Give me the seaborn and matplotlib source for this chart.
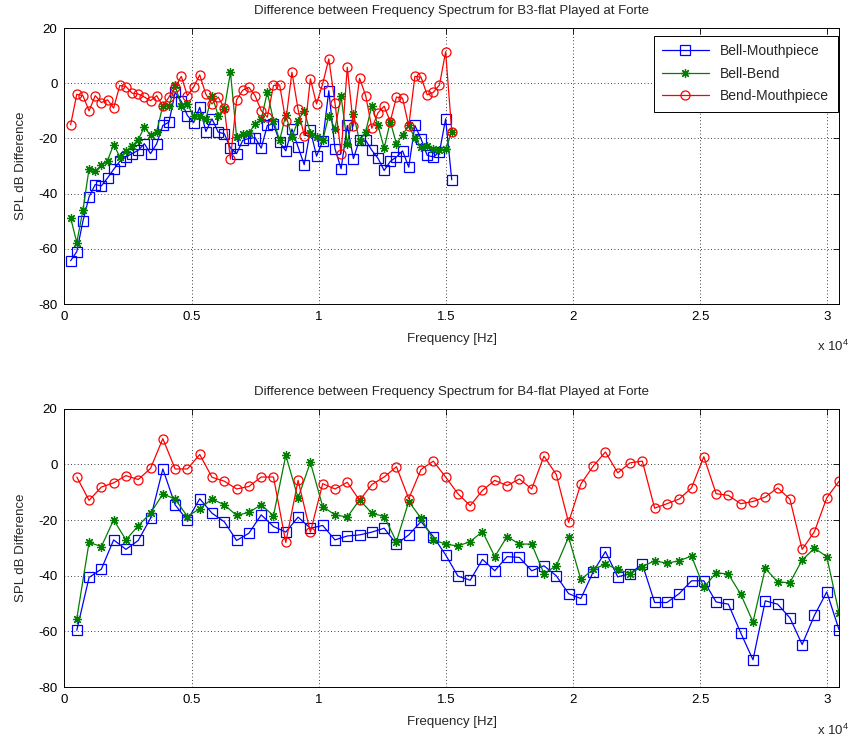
import matplotlib
matplotlib.use("Agg")
import matplotlib.pyplot as plt
import seaborn as sns
import pandas as pd

# ---------------- data ----------------
top_freq = [242, 484, 725, 967, 1209, 1451, 1693, 1934, 2176, 2418, 2660, 2902, 3143, 3385,
            3627, 3869, 4111, 4352, 4594, 4836, 5078, 5320, 5561, 5803, 6045, 6287, 6529, 6770,
            7012, 7254, 7496, 7738, 7979, 8221, 8463, 8705, 8947, 9188, 9430, 9672, 9914, 10156,
            10397, 10639, 10881, 11123, 11365, 11606, 11848, 12090, 12332, 12574, 12815, 13057,
            13299, 13541, 13783, 14024, 14266, 14508, 14750, 14992, 15233]

top_bell_mouth = [-64.3, -61, -50, -41.2, -36.7, -37.2, -34.3, -31.2, -28.3, -26.7, -25.5, -24.3,
                  -21.9, -25.5, -21.9, -15.3, -14.1, -3.3, -6.6, -11.7, -14.3, -8.7, -17.5, -12.9,
                  -17.7, -18.3, -23.5, -25.5, -20.7, -20, -19.7, -23.5, -15.3, -14.7, -21.3, -24.5,
                  -16.6, -23.1, -29.5, -17, -26.4, -20.9, -2.7, -23.7, -31, -15.3, -27.3, -20.4,
                  -20.7, -24.3, -27.2, -31.6, -28.3, -26.7, -24.5, -30.4, -15.3, -20.1, -26.1,
                  -26.7, -24.9, -12.9, -35]
top_bell_bend = [-48.8, -57.7, -46, -31, -31.8, -29.8, -28, -22.2, -26.7, -24.7, -22.8, -20.4,
                 -15.9, -18.9, -17.5, -8.1, -8.3, -0.8, -8.1, -7.5, -11.9, -11.9, -12.9, -4.5,
                 -11.7, -9.3, 4, -19.5, -18.5, -18, -14.8, -13, -3.3, -13.5, -20.7, -11.4, -19.5,
                 -13.5, -9.9, -18, -19.5, -20.7, -11.7, -16.5, -4.7, -21.9, -11.1, -21, -17.5,
                 -8.1, -15.3, -23.5, -13.9, -21.9, -18.7, -15.3, -19.9, -23.1, -22.8, -23.7,
                 -24.3, -24, -17.5]
top_bend_mouth = [-15, -4, -4.5, -10, -4.5, -7, -6, -9, -0.8, -1.2, -3.6, -3.9, -5, -6.3, -4.5,
                  -8.3, -5, -1.4, 2.5, -4.5, -1.4, 3, -4, -7.5, -5, -9, -27.5, -6, -2.5, -1.5,
                  -4.5, -9.9, -12.3, -0.8, -0.6, -13.7, 4, -9.5, -19, 1.6, -7.5, -0.2, 8.8, -7.1,
                  -25.5, 5.8, -15.5, 1.8, -4.5, -16.3, -10.7, -8.3, -13.9, -5, -5.4, -15.5, 2.5,
                  2.2, -4.2, -3.3, -0.6, 11.4, -17.5]

bot_freq = [484, 967, 1451, 1934, 2418, 2902, 3385, 3869, 4352, 4836, 5320, 5803, 6287, 6770,
            7254, 7738, 8221, 8705, 9188, 9672, 10156, 10639, 11123, 11606, 12090, 12574, 13057,
            13541, 14024, 14508, 14992, 15475, 15959, 16442, 16926, 17410, 17893, 18377, 18860,
            19344, 19828, 20311, 20795, 21278, 21762, 22246, 22729, 23213, 23696, 24180, 24664,
            25147, 25631, 26114, 26598, 27082, 27565, 28049, 28532, 29016, 29500, 29983, 30467]

bot_bell_mouth = [-59.6, -40.6, -37.6, -27.1, -30.5, -27.3, -19.3, -1.6, -14.5, -20.1, -12.3,
                  -17.5, -20.6, -27.3, -24.7, -18.1, -22.3, -24.3, -18.9, -22.9, -21.9, -27.1,
                  -25.7, -25.3, -24.3, -22.9, -28.6, -25.3, -20.5, -25.9, -32.5, -40.1, -41.6,
                  -34.1, -38.2, -33.1, -33.4, -38.2, -36.4, -40, -46.4, -48.2, -38.6, -31.3,
                  -40.4, -39.2, -35.8, -49.6, -49.6, -46.4, -41.8, -41.8, -49.4, -50.2, -60.5,
                  -70.2, -49, -50.2, -55.1, -64.7, -54.2, -45.8, -59.4]
bot_bell_bend = [-55.4, -28, -29.5, -19.9, -27.1, -22, -17.5, -10.6, -12.4, -18.7, -15.9, -12.4,
                 -14.5, -18.3, -17.2, -14.5, -18.4, 3.3, -12, 0.8, -15.1, -18.1, -18.9, -12.7,
                 -17.5, -18.7, -27.7, -13.3, -19.3, -27.1, -28.6, -29.3, -27.7, -24.1, -33.1,
                 -25.9, -28.6, -28.6, -39.2, -36.4, -26.1, -41.3, -37.7, -35.8, -37.7, -39.2,
                 -36.7, -34.6, -35.5, -34.6, -32.9, -44.2, -38.9, -39.4, -46.6, -56.6, -37.3,
                 -42.2, -42.5, -34.3, -30.1, -33.1, -53.4]
bot_bend_mouth = [-4.5, -12.9, -8.1, -6.6, -4, -5.4, -1.4, 9.3, -1.6, -1.6, 3.6, -4.6, -6, -8.8,
                  -7.9, -4.5, -4.5, -28, -5.7, -24.3, -6.9, -8.8, -6.4, -12.9, -7.2, -4.5, -0.8,
                  -12.3, -1.8, 1.2, -4.5, -10.5, -14.8, -9.3, -5.7, -7.6, -5.2, -8.8, 3, -3.6,
                  -20.8, -7, -0.6, 4.5, -3, 0.6, 1.2, -15.7, -14.1, -12.4, -8.4, 2.8, -10.5,
                  -11.1, -14.1, -13.3, -11.7, -8.4, -12.4, -30.5, -24.1, -12, -6]

series_names = ["Bell-Mouthpiece", "Bell-Bend", "Bend-Mouthpiece"]
titles = ["Difference between Frequency Spectrum for B3-flat Played at Forte",
          "Difference between Frequency Spectrum for B4-flat Played at Forte"]
xtick_vals = [0, 5000, 10000, 15000, 20000, 25000, 30000]
xtick_labels = ["0", "0.5", "1", "1.5", "2", "2.5", "3"]
ytick_vals = [-80, -60, -40, -20, 0, 20]

# ---------------- style ----------------
sns.set_style("white")
plt.rcParams["font.family"] = ["Liberation Sans", "DejaVu Sans"]
plt.rcParams["mathtext.default"] = "regular"
plt.rcParams["axes.unicode_minus"] = False

FS = 9.5
colors = ["#0000ff", "#007f00", "#ff0000"]
markers = ["s", (8, 2, 0), "o"]
msizes = [6.5, 6.5, 6.5]

fig = plt.figure(figsize=(8.54, 7.38), dpi=100)
ax_top = fig.add_axes([0.0755, 0.588, 0.907, 0.374])
ax_bot = fig.add_axes([0.0755, 0.069, 0.907, 0.377])

panels = [
    (ax_top, top_freq, [top_bell_mouth, top_bell_bend, top_bend_mouth], titles[0]),
    (ax_bot, bot_freq, [bot_bell_mouth, bot_bell_bend, bot_bend_mouth], titles[1]),
]

for i, (ax, freq, ys, title) in enumerate(panels):
    for name, y, c, m, ms in zip(series_names, ys, colors, markers, msizes):
        df = pd.DataFrame({"f": freq, "v": y})
        sns.lineplot(data=df, x="f", y="v", ax=ax, color=c, marker=m,
                     markersize=ms, markerfacecolor="none", markeredgecolor=c,
                     markeredgewidth=0.9, linewidth=0.9, label=name if i == 0 else None,
                     sort=False, estimator=None)
    ax.set_xlim(0, max(bot_freq))
    ax.set_ylim(-80, 20)
    ax.set_xticks(xtick_vals)
    ax.set_xticklabels(xtick_labels)
    ax.set_yticks(ytick_vals)
    ax.tick_params(direction="in", top=True, right=True, length=4, width=0.6,
                   labelsize=FS, pad=5, colors="black")
    ax.grid(True, linestyle=(0, (1, 3)), color="black", linewidth=0.6)
    for s in ax.spines.values():
        s.set_visible(True)
        s.set_color("black")
        s.set_linewidth(0.7)
    ax.set_xlabel("Frequency [Hz]", fontsize=FS, labelpad=7)
    ax.set_ylabel("SPL dB Difference", fontsize=FS, labelpad=8)
    ax.set_title(title, fontsize=FS, pad=10)
    ax.text(0.992, -0.155, r"x 10$^{4}$", transform=ax.transAxes, ha="center",
            va="center", fontsize=FS)
    if i == 1:
        lg = ax.get_legend()
        if lg is not None:
            lg.remove()

leg = ax_top.legend(loc="upper right", bbox_to_anchor=(0.998, 0.972), borderaxespad=0,
                    fontsize=10, frameon=True, fancybox=False, edgecolor="black",
                    framealpha=1, handlelength=3.4, handletextpad=0.8,
                    labelspacing=0.62, borderpad=0.6)
leg.get_frame().set_linewidth(0.7)

fig.savefig("out.png", dpi=100, facecolor="white")
